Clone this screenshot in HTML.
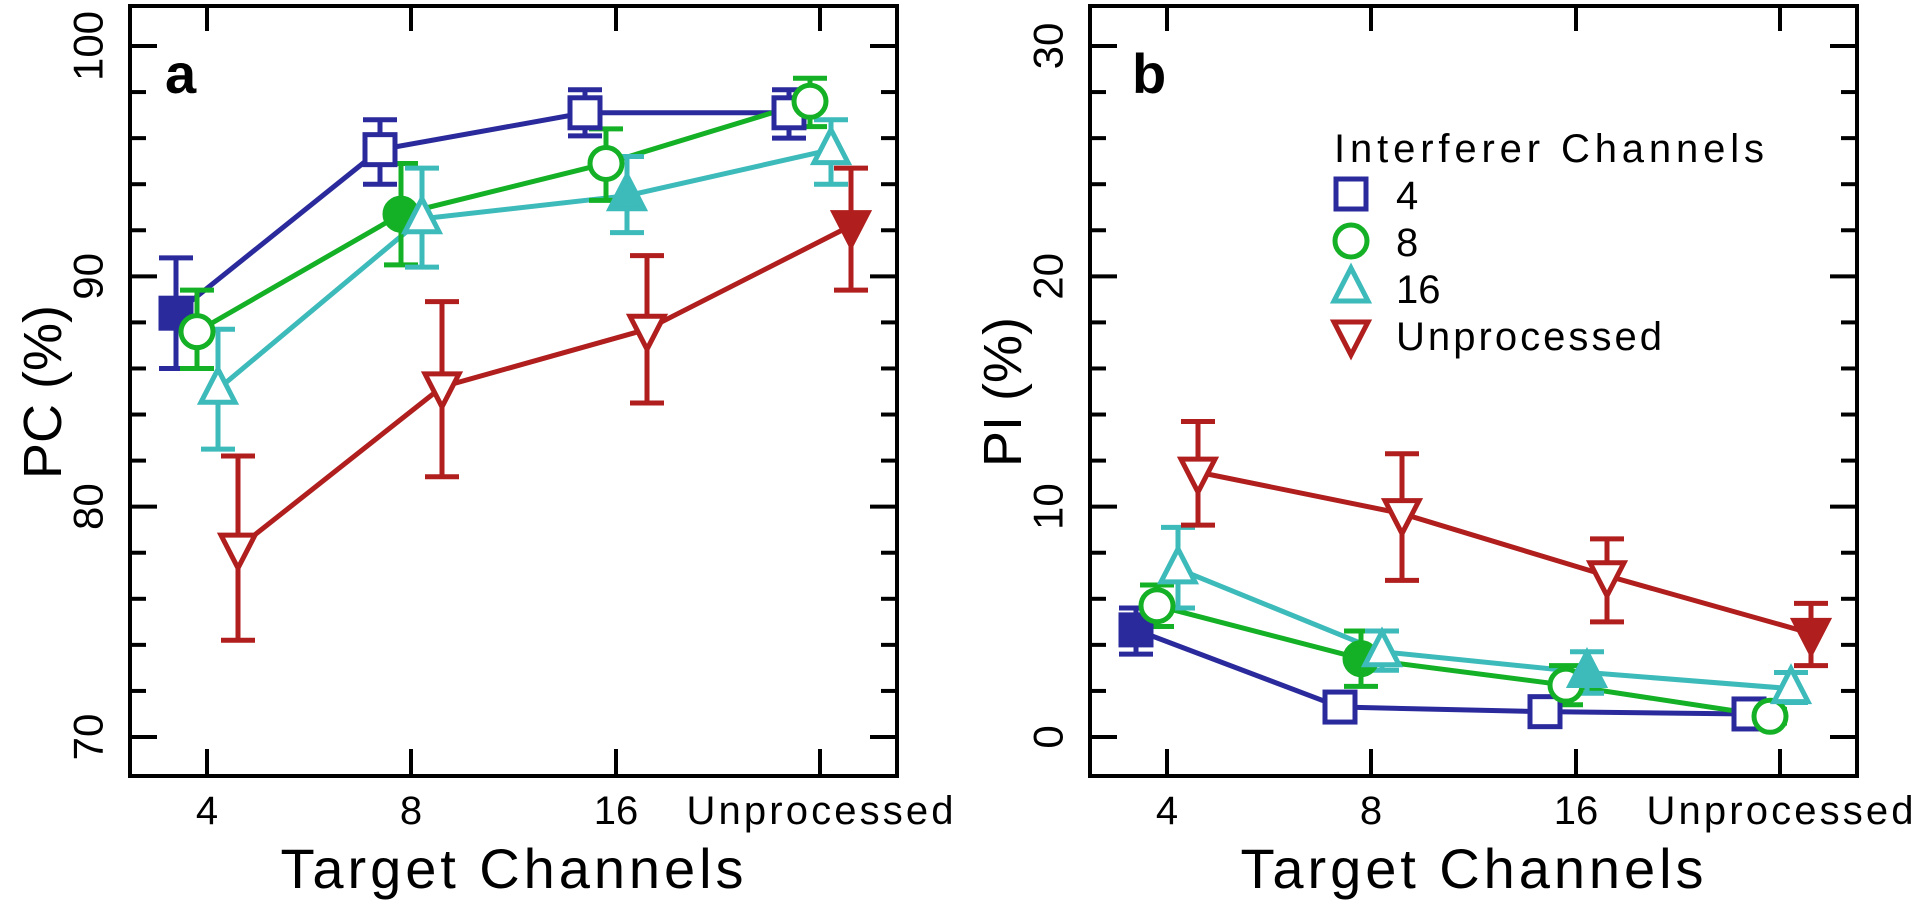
<!DOCTYPE html>
<html><head><meta charset="utf-8">
<style>
html,body{margin:0;padding:0;background:#fff;}
svg{display:block;}
text{font-family:"Liberation Sans",sans-serif;fill:#000;}
</style></head>
<body>
<svg id="fig" width="1920" height="908" viewBox="0 0 1920 908" xmlns="http://www.w3.org/2000/svg"></svg>
<script>
// ---- data ----
const categories = ['4','8','16','Unprocessed'];
const seriesNames = ['4','8','16','Unprocessed'];
const seriesColors = ['#2a2a9c','#14b025','#3dbaba','#b01e1e'];
const seriesShapes = ['square','circle','triangle','invtriangle'];
const filledIndex = [0,1,2,3];

const pcBlue = [88.4,95.5,97.1,97.1];
const pcBlueHi = [90.8,96.8,98.1,98.1];
const pcBlueLo = [86.0,94.0,96.1,96.0];
const pcGreen = [87.6,92.7,94.9,97.6];
const pcGreenHi = [89.4,94.9,96.4,98.6];
const pcGreenLo = [86.0,90.5,93.3,96.5];
const pcCyan = [85.1,92.5,93.5,95.5];
const pcCyanHi = [87.7,94.7,95.2,96.8];
const pcCyanLo = [82.5,90.4,91.9,94.0];
const pcRed = [78.2,85.2,87.7,92.2];
const pcRedHi = [82.2,88.9,90.9,94.7];
const pcRedLo = [74.2,81.3,84.5,89.4];

const piBlue = [4.65,1.3,1.1,1.0];
const piBlueHi = [5.6,1.6,1.4,1.3];
const piBlueLo = [3.6,1.0,0.8,0.7];
const piGreen = [5.7,3.4,2.25,0.9];
const piGreenHi = [6.6,4.6,3.1,1.2];
const piGreenLo = [4.8,2.2,1.4,0.6];
const piCyan = [7.3,3.7,2.8,2.1];
const piCyanHi = [9.1,4.6,3.7,2.8];
const piCyanLo = [5.6,2.9,1.9,1.5];
const piRed = [11.5,9.7,7.0,4.5];
const piRedHi = [13.7,12.3,8.6,5.8];
const piRedLo = [9.2,6.8,5.0,3.1];

const pcTicks = ['70','80','90','100'];
const piTicks = ['0','10','20','30'];

// ---- drawing ----
const NS='http://www.w3.org/2000/svg';
const svg=document.getElementById('fig');
function mk(tag,attrs,parent){const e=document.createElementNS(NS,tag);for(const k in attrs)e.setAttribute(k,attrs[k]);(parent||svg).appendChild(e);return e;}

function drawPanel(ox, yMin, yMax, ticks, series, title, letter, pname){
  const L=130+ox, R=897+ox, T=6, B=776;
  const y0=737, y1=46;
  const ys=v=>y0+(v-yMin)*(y1-y0)/(yMax-yMin);
  const catX=[207,411,616,820];
  const xs=i=>catX[i]+ox;
  const offs=[-31,-10,11,31];
  const g=mk('g',{});
  
  
  const fr=mk('rect',{x:L,y:T,width:R-L,height:B-T,fill:'none',stroke:'#000','stroke-width':4},g);
  
  
  for(let v=yMin; v<=yMax+0.001; v+=2){
    const y=ys(v); const major=(Math.round(v)%10===0); const len=major?27:16;
    const t1=mk('line',{x1:L,x2:L+len,y1:y,y2:y,stroke:'#000','stroke-width':4},g);
    
    
    const t2=mk('line',{x1:R,x2:R-len,y1:y,y2:y,stroke:'#000','stroke-width':4},g);
    
    
  }
  ticks.forEach((lab,i)=>{
    const y=ys(yMin+i*10);
    const t=mk('text',{x:0,y:0,'font-size':42,'text-anchor':'middle','dominant-baseline':'central',transform:`translate(${L-42},${y}) rotate(-90)`},g);
    t.textContent=lab;
    
    
  });
  categories.forEach((c,i)=>{
    const x=xs(i);
    const a=mk('line',{x1:x,x2:x,y1:B,y2:B-27,stroke:'#000','stroke-width':4},g);
    
    
    const b=mk('line',{x1:x,x2:x,y1:T,y2:T+25,stroke:'#000','stroke-width':4},g);
    
    
    const t=mk('text',{x:x,y:824,'font-size':40,'text-anchor':'middle'},g);
    if(i===3)t.setAttribute('textLength',267);
    t.textContent=c;
    
    
  });
  const xt=mk('text',{x:512+ox,y:888,'font-size':56,'text-anchor':'middle',textLength:463},g);
  xt.textContent='Target Channels';
  
  
  const yt=mk('text',{x:0,y:0,'font-size':54,'text-anchor':'middle','dominant-baseline':'central',transform:`translate(${43+ox},392) rotate(-90)`},g);
  yt.textContent=title;
  
  
  const pl=mk('text',{x:(letter==='b'?1132:165),y:93,'font-size':56,'font-weight':'bold'},g);
  pl.textContent=letter;
  
  

  series.forEach((s,si)=>{
    const col=seriesColors[si];
    const sg=mk('g',{},g);
    
    
    const pts=s.v.map((v,i)=>[xs(i)+offs[si],ys(v)]);
    const ln=mk('polyline',{points:pts.map(p=>p.join(',')).join(' '),fill:'none',stroke:col,'stroke-width':5},sg);
    
    
  });
  series.forEach((s,si)=>{
    const col=seriesColors[si];
    s.v.forEach((v,i)=>{
      const x=xs(i)+offs[si], yh=ys(s.hi[i]), yl=ys(s.lo[i]);
      const eb=mk('path',{d:`M${x},${yh}V${yl}M${x-17},${yh}H${x+17}M${x-17},${yl}H${x+17}`,stroke:col,'stroke-width':5,fill:'none'},g);
      
      
    });
  });
  series.forEach((s,si)=>{
    s.v.forEach((v,i)=>{
      const x=xs(i)+offs[si], y=ys(v);
      const m=marker(seriesShapes[si],x,y,seriesColors[si],filledIndex[si]===i,g);
      
      
    });
  });
}

function marker(shape,x,y,col,filled,parent){
  const fill=filled?col:'#fff';
  const a={stroke:col,'stroke-width':5,fill:fill};
  if(shape==='square'){a.x=x-15;a.y=y-15;a.width=30;a.height=30;return mk('rect',a,parent);}
  if(shape==='circle'){a.cx=x;a.cy=y;a.r=16;return mk('circle',a,parent);}
  if(shape==='triangle'){a.points=`${x},${y-20} ${x+17},${y+13} ${x-17},${y+13}`;return mk('polygon',a,parent);}
  a.points=`${x},${y+20} ${x+17},${y-13} ${x-17},${y-13}`;return mk('polygon',a,parent);
}

drawPanel(0,70,100,pcTicks,[
  {v:pcBlue,hi:pcBlueHi,lo:pcBlueLo},
  {v:pcGreen,hi:pcGreenHi,lo:pcGreenLo},
  {v:pcCyan,hi:pcCyanHi,lo:pcCyanLo},
  {v:pcRed,hi:pcRedHi,lo:pcRedLo}],'PC (%)','a','panel-a');
drawPanel(960,0,30,piTicks,[
  {v:piBlue,hi:piBlueHi,lo:piBlueLo},
  {v:piGreen,hi:piGreenHi,lo:piGreenLo},
  {v:piCyan,hi:piCyanHi,lo:piCyanLo},
  {v:piRed,hi:piRedHi,lo:piRedLo}],'PI (%)','b','panel-b');

const lg=mk('g',{});


const lt=mk('text',{x:1334,y:162,'font-size':40,textLength:430},lg);
lt.textContent='Interferer Channels';


const legendLabels=['4','8','16','Unprocessed'];
legendLabels.forEach((lab,i)=>{
  const by=209+i*47;
  const m=marker(seriesShapes[i],1351,by-15,seriesColors[i],false,lg);
  
  
  const t=mk('text',{x:1396,y:by,'font-size':40},lg);
  if(i===3)t.setAttribute('textLength',266);
  t.textContent=lab;
  
  
});
</script>
</body></html>
